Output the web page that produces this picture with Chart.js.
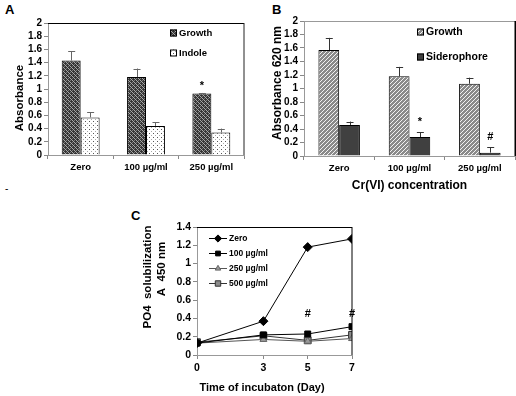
<!DOCTYPE html>
<html><head><meta charset="utf-8">
<script src="https://cdn.jsdelivr.net/npm/chart.js@4.4.0/dist/chart.umd.min.js"></script>
<style>
html,body{margin:0;padding:0;background:#fff;}
body{width:516px;height:396px;position:relative;overflow:hidden;font-family:"Liberation Sans",Arial,sans-serif;}
.wrap{position:absolute;}
.lbl{position:absolute;font-weight:bold;color:#000;line-height:1;}
canvas{display:block;}
</style></head><body>
<div class="lbl" style="left:5px;top:3px;font-size:13px">A</div>
<div class="lbl" style="left:272px;top:3px;font-size:13px">B</div>
<div class="lbl" style="left:131px;top:209px;font-size:13px">C</div>
<div class="lbl" style="left:5px;top:184px;font-size:10px;font-weight:normal">-</div>
<div class="wrap" style="left:0;top:0"><canvas id="cA" width="258" height="195"></canvas></div>
<div class="wrap" style="left:258px;top:0"><canvas id="cB" width="258" height="193"></canvas></div>
<div class="wrap" style="left:130px;top:200px"><canvas id="cC" width="240" height="196"></canvas></div>
<script>
// ---------- Data ----------
const categoriesA = ['Zero', '100 µg/ml', '250 µg/ml'];
const growthA = [1.43, 1.18, 0.93];
const growthErrA = [0.14, 0.13, 0.01];
const indoleA = [0.57, 0.44, 0.34];
const indoleErrA = [0.08, 0.06, 0.06];
const marksGrowthA = ['', '', '*'];

const categoriesB = ['Zero', '100 µg/ml', '250 µg/ml'];
const growthB = [1.57, 1.18, 1.07];
const growthErrB = [0.18, 0.14, 0.09];
const sideroB = [0.46, 0.28, 0.05];
const sideroErrB = [0.05, 0.07, 0.08];
const marksSideroB = ['', '*', '#'];

const daysC = [0, 3, 5, 7];
const xTicksC = [0, 3, 5, 7];
const zeroC = [0.13, 0.37, 1.18, 1.27];
const c100C = [0.13, 0.22, 0.23, 0.31];
const c250C = [0.13, 0.17, 0.15, 0.18];
const c500C = [0.14, 0.21, 0.16, 0.22];
const hashDaysC = [5, 7];
const hashLevelC = 0.45;

const FONT = '"Liberation Sans", Arial, sans-serif';
const bold = (s) => ({family: FONT, size: s, weight: 'bold'});
const fmt = (v) => String(+(+v).toFixed(1));

// ---------- Patterns ----------
function pattern(kind) {
  const c = document.createElement('canvas');
  c.width = 4; c.height = 4;
  const g = c.getContext('2d');
  if (kind === 'dark') {
    g.fillStyle = '#353535'; g.fillRect(0, 0, 4, 4);
    g.fillStyle = '#a8a8a8';
    for (let i = 0; i < 4; i++) g.fillRect(i, i, 1, 1);
    g.fillStyle = '#777';
    g.fillRect(2, 0, 1, 1); g.fillRect(0, 2, 1, 1);
  } else if (kind === 'dots') {
    g.fillStyle = '#ffffff'; g.fillRect(0, 0, 4, 4);
    g.fillStyle = '#555'; g.fillRect(1, 1, 1, 1);
    g.fillStyle = '#aaa'; g.fillRect(3, 3, 1, 1);
  } else if (kind === 'light') {
    g.fillStyle = '#8a8a8a'; g.fillRect(0, 0, 4, 4);
    g.fillStyle = '#f2f2f2';
    for (let i = 0; i < 4; i++) g.fillRect(i, 3 - i, 1, 1);
  }
  return g.createPattern(c, 'repeat');
}
const patDark = pattern('dark'), patDots = pattern('dots'), patLight = pattern('light');

// ---------- Plugins ----------
const framePlugin = {
  id: 'frame',
  afterDraw(chart, args, o) {
    const {ctx, chartArea: a} = chart;
    ctx.save();
    ctx.strokeStyle = o.topColor || '#000'; ctx.lineWidth = o.topWidth || 1;
    ctx.beginPath(); ctx.moveTo(a.left, a.top + 0.5); ctx.lineTo(a.right, a.top + 0.5); ctx.stroke();
    ctx.strokeStyle = o.rightColor || '#000'; ctx.lineWidth = o.rightWidth || 1;
    const rx = a.right + (o.rightWidth || 1) / 2 - 0.5;
    ctx.beginPath(); ctx.moveTo(rx, a.top); ctx.lineTo(rx, a.bottom); ctx.stroke();
    ctx.restore();
  }
};

// axis titles placed at given canvas positions
const titlesPlugin = {
  id: 'axisTitles',
  afterDraw(chart, args, o) {
    if (!o || !o.items) return;
    const {ctx} = chart;
    ctx.save();
    ctx.fillStyle = '#000';
    ctx.textAlign = 'center'; ctx.textBaseline = 'middle';
    o.items.forEach(t => {
      ctx.save();
      ctx.font = 'bold ' + t.size + 'px ' + FONT;
      ctx.translate(t.x, t.y);
      if (t.vertical) ctx.rotate(-Math.PI / 2);
      ctx.fillText(t.text, 0, 0);
      ctx.restore();
    });
    ctx.restore();
  }
};

const errorPlugin = {
  id: 'errbars',
  afterDatasetsDraw(chart, args, o) {
    const {ctx} = chart;
    const ys = chart.scales.y;
    ctx.save();
    chart.data.datasets.forEach((ds, i) => {
      const meta = chart.getDatasetMeta(i);
      meta.data.forEach((el, j) => {
        const v = ds.data[j];
        const e = ds.errors ? ds.errors[j] : 0;
        const yTop = ys.getPixelForValue(v + e);
        if (e) {
          ctx.strokeStyle = o.color || '#555'; ctx.lineWidth = 1;
          ctx.beginPath();
          ctx.moveTo(Math.round(el.x) + 0.5, el.y); ctx.lineTo(Math.round(el.x) + 0.5, yTop);
          ctx.moveTo(el.x - 3, Math.round(yTop) + 0.5); ctx.lineTo(el.x + 4, Math.round(yTop) + 0.5);
          ctx.stroke();
        }
        if (ds.marks && ds.marks[j]) {
          ctx.fillStyle = '#000';
          ctx.font = 'bold 11px ' + FONT;
          ctx.textAlign = 'center'; ctx.textBaseline = 'middle';
          ctx.fillText(ds.marks[j], el.x, yTop - (o.markGap || 8));
        }
      });
    });
    ctx.restore();
  }
};

const boxLegendPlugin = {
  id: 'boxLegend',
  afterDraw(chart, args, o) {
    if (!o || !o.x) return;
    const {ctx, chartArea: a} = chart;
    ctx.save();
    ctx.font = 'bold ' + o.size + 'px ' + FONT;
    ctx.textBaseline = 'middle'; ctx.textAlign = 'left';
    chart.data.datasets.forEach((ds, i) => {
      const x = a.left + o.x, y = a.top + o.y + i * o.gap;
      ctx.fillStyle = ds.backgroundColor;
      ctx.fillRect(x, y - 3.5, 7, 7);
      ctx.strokeStyle = '#000'; ctx.lineWidth = 1;
      ctx.strokeRect(x + 0.5, y - 3, 6, 6);
      ctx.fillStyle = '#000';
      ctx.fillText(ds.label, x + 9, y + 0.5);
    });
    ctx.restore();
  }
};

const lineLegendPlugin = {
  id: 'lineLegend',
  afterDraw(chart, args, o) {
    if (!o || !o.x) return;
    const {ctx, chartArea: a} = chart;
    ctx.save();
    chart.data.datasets.forEach((ds, i) => {
      const x = a.left + o.x, y = a.top + o.y + i * o.gap;
      ctx.strokeStyle = ds.borderColor; ctx.lineWidth = 1;
      ctx.beginPath(); ctx.moveTo(x, y + 0.5); ctx.lineTo(x + 18, y + 0.5); ctx.stroke();
      ctx.fillStyle = ds.pointBackgroundColor; ctx.strokeStyle = ds.pointBorderColor;
      ctx.lineWidth = ds.pointBorderWidth;
      Chart.helpers.drawPoint(ctx, {pointStyle: ds.pointStyle, rotation: 0, radius: ds.pointRadius * 0.8, borderWidth: ds.pointBorderWidth}, x + 9, y + 0.5);
      ctx.fillStyle = '#000';
      ctx.font = 'bold ' + o.size + 'px ' + FONT;
      ctx.textBaseline = 'middle'; ctx.textAlign = 'left';
      ctx.fillText(ds.label, x + 20, y + 0.5);
    });
    ctx.restore();
  }
};

const hashPlugin = {
  id: 'hashes',
  afterDraw(chart) {
    const {ctx, scales} = chart;
    ctx.save();
    ctx.fillStyle = '#000'; ctx.font = 'bold 11px ' + FONT;
    ctx.textAlign = 'center'; ctx.textBaseline = 'middle';
    hashDaysC.forEach(d => ctx.fillText('#', scales.x.getPixelForValue(d), scales.y.getPixelForValue(hashLevelC)));
    ctx.restore();
  }
};

// ---------- Common axis builders ----------
function barX(h, titleText) {
  const s = {
    grid: {display: true, drawOnChartArea: false, offset: true, tickLength: 4, color: '#888'},
    border: {color: '#999'},
    ticks: {font: bold(9.5), color: '#000', padding: 3, maxRotation: 0, autoSkip: false},
    afterFit: (sc) => { sc.height = h; }
  };
  if (titleText) s.title = {display: true, text: titleText, font: bold(12), color: '#000', padding: {top: 4, bottom: 0}};
  return s;
}
function valY(w, max, tfont) {
  return {
    min: 0, max: max,
    grid: {display: true, drawOnChartArea: false, tickLength: 4, color: '#888'},
    border: {color: '#999'},
    ticks: {stepSize: 0.2, autoSkip: false, font: bold(tfont), color: '#000', padding: 2, callback: fmt},
    afterFit: (sc) => { sc.width = w; }
  };
}

// ---------- Chart A ----------
new Chart(document.getElementById('cA'), {
  type: 'bar',
  data: {
    labels: categoriesA,
    datasets: [
      {label: 'Growth', data: growthA, errors: growthErrA, marks: marksGrowthA, backgroundColor: patDark, borderColor: '#000', borderWidth: 1, categoryPercentage: 0.58, barPercentage: 1},
      {label: 'Indole', data: indoleA, errors: indoleErrA, backgroundColor: patDots, borderColor: '#000', borderWidth: 1, categoryPercentage: 0.58, barPercentage: 1}
    ]
  },
  options: {
    responsive: false, animation: false, events: [],
    layout: {padding: {top: 23, right: 14, left: 0, bottom: 0}},
    plugins: {legend: {display: false}, tooltip: {enabled: false},
      frame: {topColor: '#000', rightColor: '#222'},
      errbars: {color: '#666', markGap: 7},
      boxLegend: {x: 122, y: 10, gap: 20, size: 9.5},
      axisTitles: {items: [{text: 'Absorbance', x: 20, y: 98, size: 11.5, vertical: true}]}},
    scales: {x: barX(40), y: valY(48, 2, 10)}
  },
  plugins: [framePlugin, errorPlugin, boxLegendPlugin, titlesPlugin]
});

// ---------- Chart B ----------
new Chart(document.getElementById('cB'), {
  type: 'bar',
  data: {
    labels: categoriesB,
    datasets: [
      {label: 'Growth', data: growthB, errors: growthErrB, backgroundColor: patLight, borderColor: '#000', borderWidth: 1, categoryPercentage: 0.59, barPercentage: 1},
      {label: 'Siderophore', data: sideroB, errors: sideroErrB, marks: marksSideroB, backgroundColor: '#404040', borderColor: '#000', borderWidth: 1, categoryPercentage: 0.59, barPercentage: 1}
    ]
  },
  options: {
    responsive: false, animation: false, events: [],
    layout: {padding: {top: 21, right: 1, left: 0, bottom: 0}},
    plugins: {legend: {display: false}, tooltip: {enabled: false},
      frame: {topColor: '#999', rightColor: '#000', rightWidth: 3},
      errbars: {color: '#333', markGap: 10},
      boxLegend: {x: 113, y: 11, gap: 25, size: 10.5},
      axisTitles: {items: [{text: 'Absorbance 620 nm', x: 20, y: 83, size: 12, vertical: true}]}},
    scales: {x: barX(37, 'Cr(VI) concentration'), y: valY(46, 2, 10)}
  },
  plugins: [framePlugin, errorPlugin, boxLegendPlugin, titlesPlugin]
});

// ---------- Chart C ----------
const pts = (ys) => daysC.map((d, i) => ({x: d, y: ys[i]}));
const lineDs = (label, ys, style, radius, fill, border, lineColor) => ({
  label, data: pts(ys), borderColor: lineColor, borderWidth: 1, pointStyle: style, pointRadius: radius,
  pointBackgroundColor: fill, pointBorderColor: border, pointBorderWidth: 1, fill: false, tension: 0
});
new Chart(document.getElementById('cC'), {
  type: 'line',
  data: {
    datasets: [
      lineDs('Zero', zeroC, 'rectRot', 4.5, '#000', '#000', '#000'),
      lineDs('100 µg/ml', c100C, 'rect', 4.2, '#000', '#000', '#000'),
      lineDs('250 µg/ml', c250C, 'triangle', 4, '#999', '#666', '#555'),
      lineDs('500 µg/ml', c500C, 'rect', 4.8, '#8c8c8c', '#333', '#333')
    ]
  },
  options: {
    responsive: false, animation: false, events: [],
    layout: {padding: {top: 27, right: 18, left: 0, bottom: 0}},
    plugins: {legend: {display: false}, tooltip: {enabled: false},
      frame: {topColor: '#000', rightColor: '#000'},
      lineLegend: {x: 12, y: 11, gap: 15, size: 8.5},
      axisTitles: {items: [
        {text: 'PO4  solubilization', x: 18, y: 77, size: 11.5, vertical: true},
        {text: 'A  450 nm', x: 32, y: 69, size: 11.5, vertical: true},
        {text: 'Time of incubaton (Day)', x: 132, y: 188, size: 11}
      ]}},
    scales: {
      x: {type: 'linear', min: 0, max: 7,
        afterBuildTicks: (sc) => { sc.ticks = xTicksC.map(v => ({value: v})); },
        grid: {display: true, drawOnChartArea: false, tickLength: 4, color: '#888'},
        border: {color: '#999'},
        ticks: {font: bold(10.5), color: '#000', padding: 3, autoSkip: false, callback: (v) => String(v)},
        afterFit: (sc) => { sc.height = 41; }
      },
      y: valY(67, 1.4, 10.5)
    }
  },
  plugins: [framePlugin, lineLegendPlugin, hashPlugin, titlesPlugin]
});
</script>
</body></html>
